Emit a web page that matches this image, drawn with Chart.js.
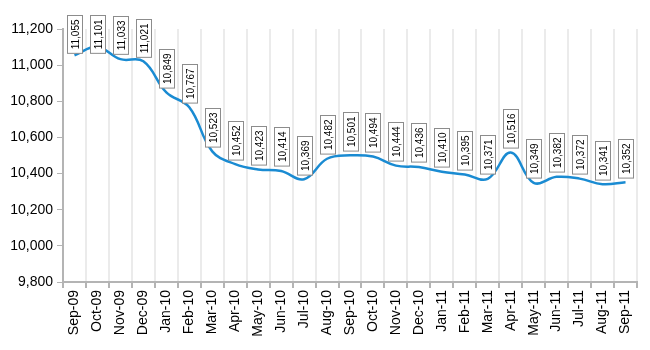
<!DOCTYPE html>
<html>
<head>
<meta charset="utf-8">
<script src="https://cdn.jsdelivr.net/npm/chart.js@4"></script>
<style>
  html, body { margin: 0; padding: 0; background: #fff; }
  #wrap { width: 650px; height: 350px; }
</style>
</head>
<body>
<div id="wrap"><canvas id="chart"></canvas></div>
<script>
const months = ['Sep-09', 'Oct-09', 'Nov-09', 'Dec-09', 'Jan-10', 'Feb-10', 'Mar-10', 'Apr-10', 'May-10',
    'Jun-10', 'Jul-10', 'Aug-10', 'Sep-10', 'Oct-10', 'Nov-10', 'Dec-10', 'Jan-11', 'Feb-11', 'Mar-11',
    'Apr-11', 'May-11', 'Jun-11', 'Jul-11', 'Aug-11', 'Sep-11'];
const values = [11055, 11101, 11033, 11021, 10849, 10767, 10523, 10452, 10423, 10414, 10369, 10482,
    10501, 10494, 10444, 10436, 10410, 10395, 10371, 10516, 10349, 10382, 10372, 10341, 10352];
const yMin = 9800;
const yMax = 11200;
const yStep = 200;

const fmt = v => v.toLocaleString('en-US');

// boxed, rotated value labels above each point
const boxLabels = {
    id: 'boxLabels',
    afterDatasetsDraw(chart) {
        const ctx = chart.ctx;
        const meta = chart.getDatasetMeta(0);
        ctx.save();
        ctx.font = '10px "Liberation Sans", Arial, sans-serif';
        meta.data.forEach((pt, i) => {
            const txt = fmt(values[i]);
            const w = 15;
            const h = ctx.measureText(txt).width + 8;
            let top = pt.y - 5 - h;
            if (top < 15) top = 15;
            const left = Math.round(pt.x - w / 2) + 0.5;
            top = Math.round(top) + 0.5;
            ctx.fillStyle = '#fff';
            ctx.fillRect(left, top, w, h);
            ctx.strokeStyle = '#8c8c8c';
            ctx.lineWidth = 1;
            ctx.strokeRect(left, top, w, h);
            ctx.save();
            ctx.translate(left + w / 2, top + h / 2);
            ctx.rotate(-Math.PI / 2);
            ctx.fillStyle = '#000';
            ctx.textAlign = 'center';
            ctx.textBaseline = 'middle';
            ctx.fillText(txt, 0, 1);
            ctx.restore();
        });
        ctx.restore();
    }
};

new Chart(document.getElementById('chart'), {
    type: 'line',
    data: {
        labels: months,
        datasets: [{
            data: values,
            borderColor: '#1a8bd2',
            borderWidth: 2.5,
            pointRadius: 0,
            tension: 0.4,
            fill: false
        }]
    },
    options: {
        responsive: true,
        maintainAspectRatio: false,
        animation: false,
        layout: { padding: { top: 29, right: 13, left: 0, bottom: 0 } },
        plugins: { legend: { display: false }, tooltip: { enabled: false } },
        scales: {
            x: {
                offset: true,
                grid: { offset: true, color: '#ebebeb', lineWidth: 2, tickColor: '#b4b4b4', tickLength: 6, drawTicks: true },
                border: { color: '#b4b4b4', width: 2 },
                ticks: {
                    color: '#000', maxRotation: 90, minRotation: 90, autoSkip: false, padding: 2,
                    font: { family: '"Liberation Sans", Arial, sans-serif', size: 14 }
                },
                afterFit(scale) { scale.height = 68; }
            },
            y: {
                min: yMin,
                max: yMax,
                ticks: {
                    stepSize: yStep, color: '#000', padding: 4,
                    font: { family: '"Liberation Sans", Arial, sans-serif', size: 14 },
                    callback: v => fmt(v)
                },
                grid: { drawOnChartArea: false, tickColor: '#b4b4b4', tickLength: 6 },
                border: { color: '#b4b4b4', width: 2 },
                afterFit(scale) { scale.width = 63; }
            }
        }
    },
    plugins: [boxLabels]
});
</script>
</body>
</html>
